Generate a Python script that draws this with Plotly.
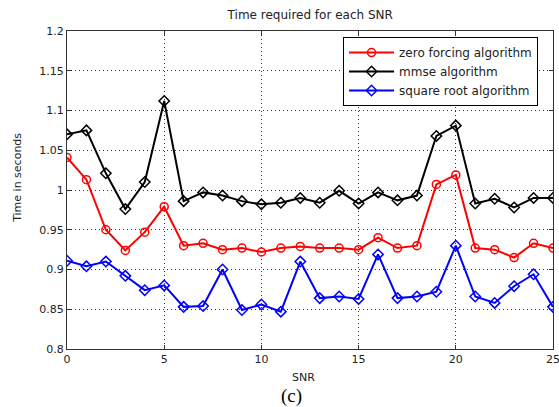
import plotly.graph_objects as go

snr = list(range(26))
zero_forcing = [1.041, 1.013, 0.950, 0.924, 0.947, 0.979, 0.930, 0.933, 0.925, 0.927,
                0.922, 0.927, 0.929, 0.927, 0.927, 0.925, 0.940, 0.927, 0.930, 1.007,
                1.019, 0.927, 0.925, 0.915, 0.933, 0.927]
mmse = [1.070, 1.075, 1.021, 0.976, 1.010, 1.112, 0.986, 0.997, 0.993, 0.986,
        0.982, 0.984, 0.990, 0.984, 0.999, 0.983, 0.997, 0.987, 0.993, 1.068,
        1.081, 0.983, 0.989, 0.978, 0.990, 0.990]
square_root = [0.911, 0.904, 0.910, 0.892, 0.874, 0.880, 0.853, 0.854, 0.900, 0.849,
               0.856, 0.847, 0.910, 0.864, 0.866, 0.863, 0.919, 0.864, 0.866, 0.872,
               0.930, 0.866, 0.858, 0.879, 0.894, 0.853]

x_ticks = [0, 5, 10, 15, 20, 25]
y_ticks = [0.8, 0.85, 0.9, 0.95, 1.0, 1.05, 1.1, 1.15, 1.2]
y_tick_text = ["0.8", "0.85", "0.9", "0.95", "1", "1.05", "1.1", "1.15", "1.2"]

font = "DejaVu Sans, Verdana, sans-serif"
txt = "#222222"

fig = go.Figure()
fig.add_trace(go.Scatter(x=snr, y=zero_forcing, mode="lines+markers",
                         name="zero forcing algorithm",
                         line=dict(color="#ff0000", width=2),
                         marker=dict(symbol="circle-open", size=8, color="#ff0000",
                                     line=dict(width=1.5, color="#ff0000"))))
fig.add_trace(go.Scatter(x=snr, y=mmse, mode="lines+markers",
                         name="mmse algorithm",
                         line=dict(color="#000000", width=2),
                         marker=dict(symbol="diamond-open", size=8, color="#000000",
                                     line=dict(width=1.5, color="#000000"))))
fig.add_trace(go.Scatter(x=snr, y=square_root, mode="lines+markers",
                         name="square root algorithm",
                         line=dict(color="#0000ff", width=2),
                         marker=dict(symbol="diamond-open", size=8, color="#0000ff",
                                     line=dict(width=1.5, color="#0000ff"))))

fig.update_layout(
    width=559, height=407,
    margin=dict(l=67, r=6, t=31, b=58, autoexpand=False),
    paper_bgcolor="white", plot_bgcolor="white",
    font=dict(family=font, size=11, color=txt),
    title=dict(text="Time required for each SNR", x=0.555, xanchor="center",
               y=0.963, yanchor="middle", font=dict(size=12, family=font, color=txt)),
    showlegend=True,
    legend=dict(x=0.568, y=0.981, xanchor="left", yanchor="top",
                bgcolor="white", bordercolor="black", borderwidth=1,
                font=dict(size=12, family=font, color=txt),
                tracegroupgap=0, itemwidth=45),
    xaxis=dict(range=[0, 25], tickvals=x_ticks, ticks="inside", ticklen=4,
               tickcolor="#333333", showline=True, linecolor="#333333", linewidth=1,
               mirror="ticks", showgrid=True, gridcolor="#333333", griddash="1px,3px",
               gridwidth=1, zeroline=False, ticklabeloverflow="allow", automargin=False,
               tickfont=dict(size=11, family=font, color=txt)),
    yaxis=dict(range=[0.8, 1.2], tickvals=y_ticks, ticktext=y_tick_text, ticks="inside",
               ticklen=4, tickcolor="#333333", showline=True, linecolor="#333333",
               linewidth=1, mirror="ticks", showgrid=True, gridcolor="#333333",
               griddash="1px,3px", gridwidth=1, zeroline=False, ticklabeloverflow="allow",
               automargin=False,
               tickfont=dict(size=11, family=font, color=txt)),
)

fig.add_annotation(text="SNR", xref="paper", yref="paper", x=0.486, y=-0.091,
                   xanchor="center", yanchor="middle", showarrow=False,
                   font=dict(size=11, family=font, color=txt))
fig.add_annotation(text="Time in seconds", xref="paper", yref="paper", x=-0.101, y=0.538,
                   xanchor="center", yanchor="middle", showarrow=False, textangle=-90,
                   font=dict(size=11, family=font, color=txt))
fig.add_annotation(text="(c)", xref="paper", yref="paper", x=0.461, y=-0.148,
                   xanchor="center", yanchor="middle", showarrow=False,
                   font=dict(family="Liberation Serif, Times New Roman, serif", size=19,
                             color="black"))

fig.write_html("out.html", config={"displayModeBar": False},
               post_script="document.body.style.margin='0';")
